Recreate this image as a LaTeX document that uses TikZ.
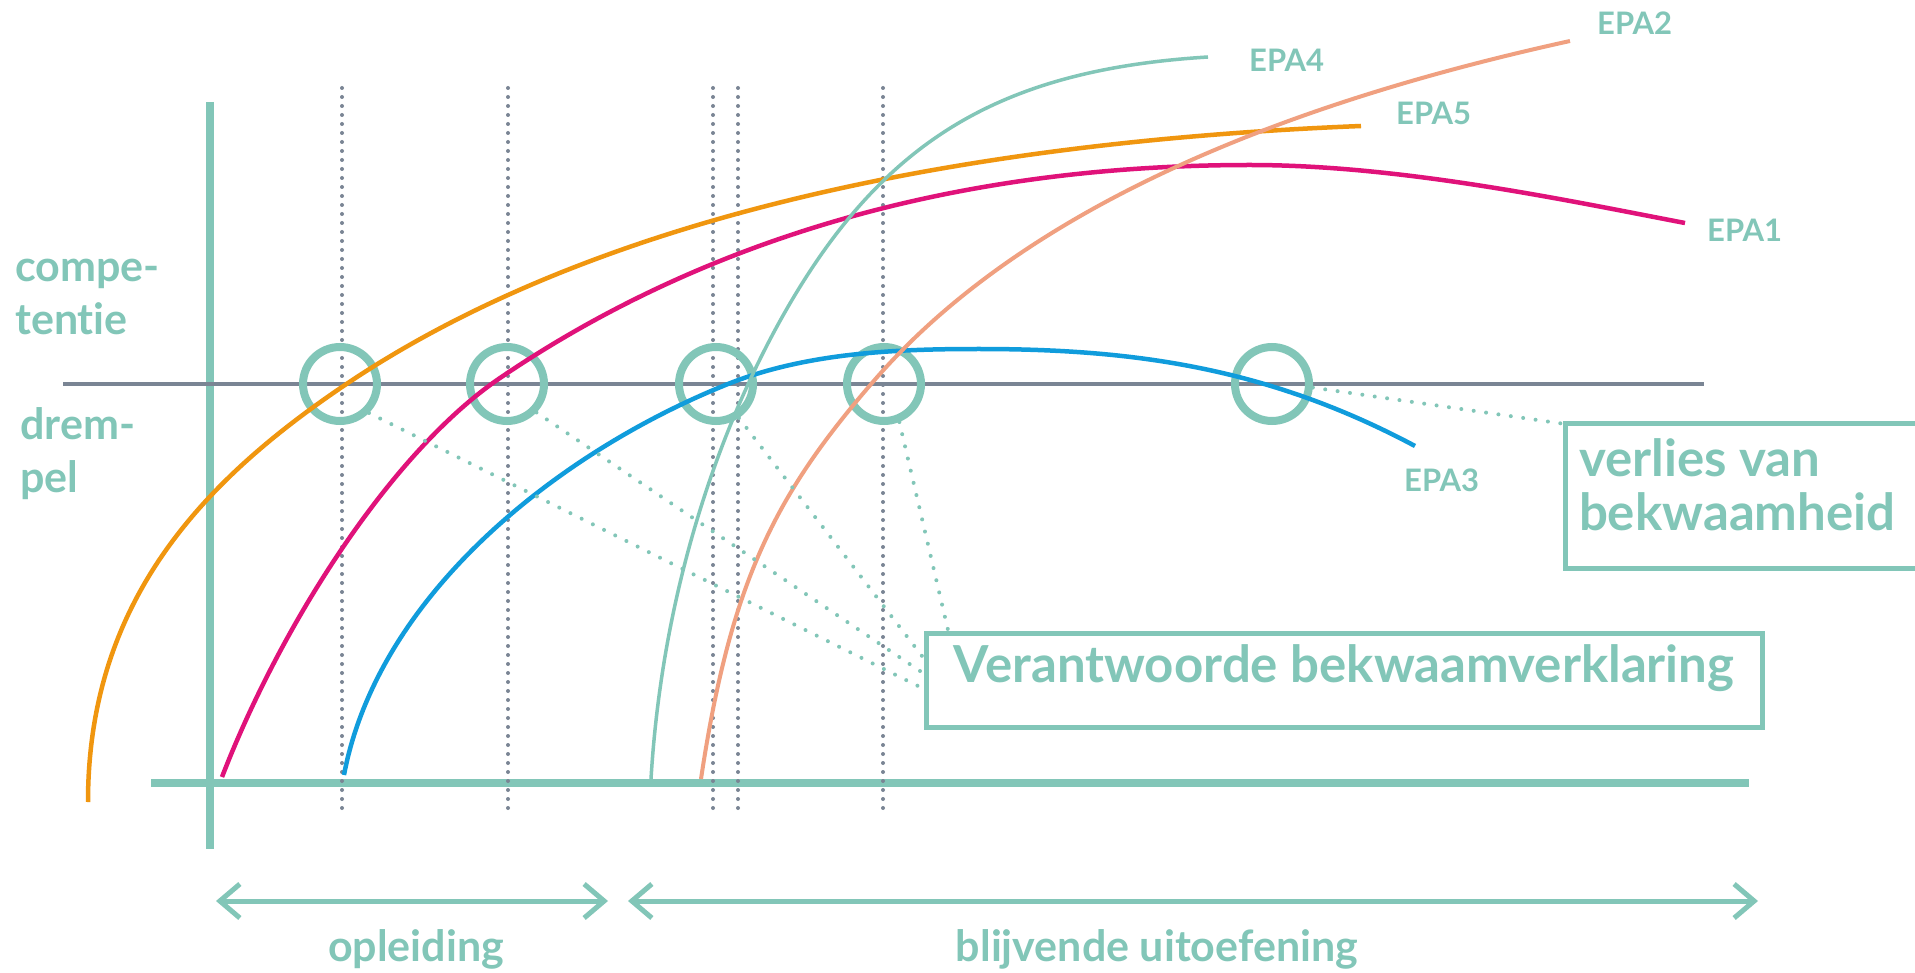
\documentclass[tikz,border=0pt]{standalone}
\usepackage{fontspec}
\setmainfont{Lato}[Ligatures=NoCommon]
\usetikzlibrary{
  arrows.meta,
  calc,
  positioning,
}
\definecolor{epateal}{HTML}{82C6B8}
\definecolor{drempelgrey}{HTML}{7A8594}
\definecolor{epaorange}{HTML}{F0960F}
\definecolor{epamagenta}{HTML}{E0127A}
\definecolor{epablue}{HTML}{109CDC}
\definecolor{epasalmon}{HTML}{F0A080}
\tikzset{
  >={Straight Barb[length=20pt,width=34pt]},
  axisline/.style={draw=epateal,line width=8pt},
  drempelline/.style={draw=drempelgrey,line width=4.5pt},
  markline/.style={draw=drempelgrey,line width=4pt,line cap=round,dash pattern=on 0pt off 9pt},
  ring/.style={circle,draw=epateal,line width=8pt,minimum size=74pt,inner sep=0pt},
  pointer/.style={draw=epateal,line width=4pt,line cap=round,dash pattern=on 0pt off 12.5pt},
  epacurve/.style={line width=4.5pt},
  epalabel/.style={text=epateal,font=\bfseries\fontsize{31}{36}\selectfont,inner sep=0pt,anchor=base west},
  axislabel/.style={text=epateal,font=\bfseries\fontsize{43}{53}\selectfont,inner sep=0pt},
  notebox/.style={draw=epateal,line width=5pt,outer sep=0pt,text=epateal,font=\bfseries\fontsize{51}{54}\selectfont,inner ysep=0pt},
  period/.style={draw=epateal,line width=5pt,<->},
}

\begin{document}
\begin{tikzpicture}[x=1pt,y=-1pt]

        \fill[white] (0,0) rectangle (1915,973);
        \useasboundingbox (0,0) rectangle (1915,973);

        \node[axislabel,anchor=base west] (compe)  at (15,282) {compe-};
        \node[axislabel,anchor=base west] (tentie) at (15,335) {tentie};
        \node[axislabel,anchor=base west] (drem)   at (20,440) {drem-};
        \node[axislabel,anchor=base west] (pel)    at (20,493) {pel};

        \draw[axisline] (210,102) -- (210,849);
        \draw[axisline] (151,783) -- (1749,783);
        \draw[drempelline] (63,384) -- (1704,384);

        \foreach \x in {342,508,713,738,883}
          \draw[markline] (\x,88) -- (\x,810);

        \foreach \x/\name in {340/c1,507/c2,716/c3,884/c4,1272/c5}
          \node[ring] (\name) at (\x,384) {};

        \draw[epacurve,epaorange] (88,802) .. controls (88,602) and (202,482) .. (342,387)
          .. controls (592,217) and (961,142) .. (1361,126);
        \draw[epacurve,epamagenta] (222,777) .. controls (280,627) and (390,453) .. (500,378)
          .. controls (700,242) and (950,165) .. (1250,165)
          .. controls (1400,165) and (1565,200) .. (1685,223);
        \draw[epacurve,epablue] (344,775) .. controls (378,595) and (558,452) .. (728,384)
          .. controls (808,352) and (900,349) .. (979,349)
          .. controls (1129,349) and (1265,366) .. (1415,446);
        \draw[epacurve,line width=3.5pt,epateal] (651,779) .. controls (666,529) and (760,333) .. (837,233)
          .. controls (922,123) and (1028,68) .. (1208,57);
        \draw[epacurve,line width=4pt,epasalmon] (701,779) .. controls (731,579) and (777,493) .. (872,383)
          .. controls (1035,193) and (1320,96) .. (1570,41);

        \node[epalabel] (epa4) at (1249,72)  {EPA4};
        \node[epalabel] (epa2) at (1597,35)  {EPA2};
        \node[epalabel] (epa5) at (1396,125) {EPA5};
        \node[epalabel] (epa1) at (1707,242) {EPA1};
        \node[epalabel] (epa3) at (1404,491) {EPA3};

        \node[notebox,anchor=north west,minimum width=836pt,text height=49pt,text depth=45pt] (verklaring) at (926,633) {Verantwoorde bekwaamverklaring};
        \node[notebox,anchor=north west,align=flush left,text width=350pt,inner xsep=14pt,text height=53pt,text depth=91pt] (verlies) at (1565,424) {verlies van\\bekwaamheid};

        \coordinate (v1) at (918,686);
        \coordinate (v2) at (920,671);
        \coordinate (v3) at (922,656);
        \coordinate (v4) at (948,630);
        \draw[pointer] (c1.-45) -- (v1);
        \draw[pointer] (c2.-44) -- (v2);
        \draw[pointer] (c3.-56) -- (v3);
        \draw[pointer] (c4.-68) -- (v4);
        \draw[pointer] (c5.-5) -- (verlies.north west);

        \coordinate (o1) at (216,901);
        \coordinate (o2) at (608,901);
        \coordinate (u1) at (628,901);
        \coordinate (u2) at (1758,901);
        \draw[period] (o1) -- (o2);
        \draw[period] (u1) -- (u2);

        \node[axislabel,anchor=base] (opleiding)   at (416,961)  {opleiding};
        \node[axislabel,anchor=base] (uitoefening) at (1157,961) {blijvende uitoefening};

      \end{tikzpicture}
\end{document}
